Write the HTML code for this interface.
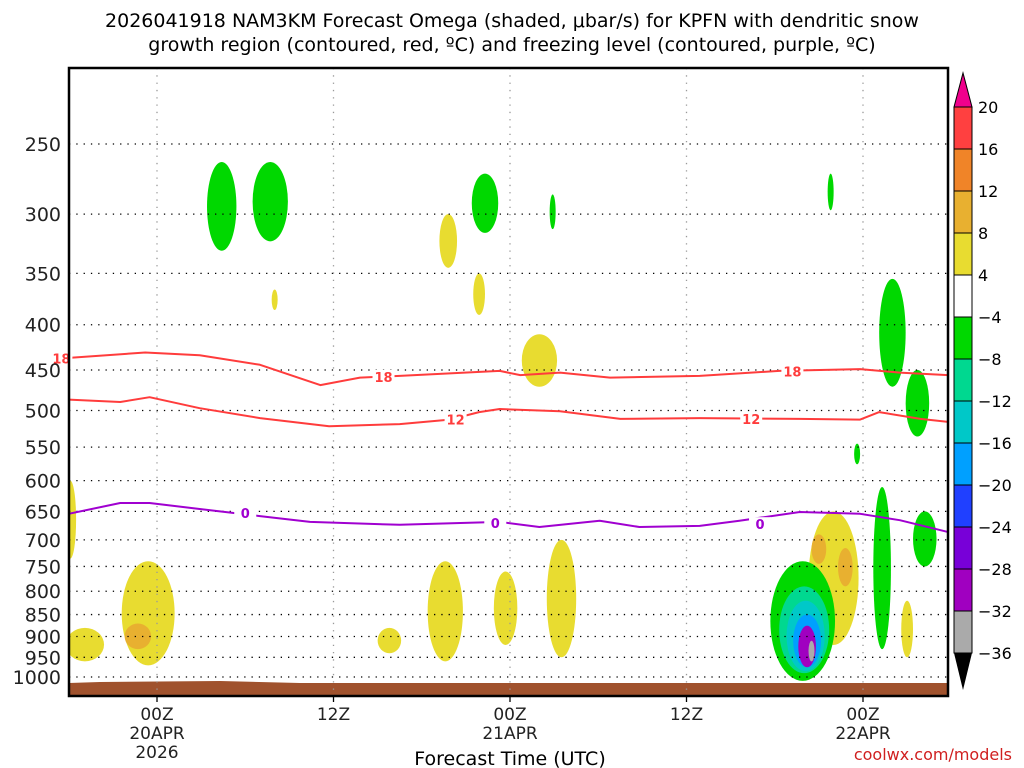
<!DOCTYPE html>
<html><head><meta charset="utf-8"><style>
html,body{margin:0;padding:0;background:#fff;}
svg{display:block;font-family:"DejaVu Sans","Liberation Sans",sans-serif;}
</style></head><body>
<svg id="chart" width="1024" height="768" viewBox="0 0 1024 768">
<text x="512" y="27" font-size="19" text-anchor="middle" fill="#000">2026041918 NAM3KM Forecast Omega (shaded, μbar/s) for KPFN with dendritic snow</text>
<text x="512" y="51" font-size="19" text-anchor="middle" fill="#000">growth region (contoured, red, ºC) and freezing level (contoured, purple, ºC)</text>
<g id="plot"></g>
<text x="510" y="765" font-size="19" text-anchor="middle">Forecast Time (UTC)</text>
<text x="1012" y="760" font-size="16" text-anchor="end" fill="#d02020">coolwx.com/models</text>
</svg>
<script>
// ---- data ----
const pTicks = [250,300,350,400,450,500,550,600,650,700,750,800,850,900,950,1000];
const xTicks = [0,12,24,36,48];
const xTickLabels = [["00Z","20APR","2026"],["12Z"],["00Z","21APR"],["12Z"],["00Z","22APR"]];
const levels = [-36,-32,-28,-24,-20,-16,-12,-8,-4,4,8,12,16,20];
const levelColors = ["#aaaaaa","#a000c0","#7800d8","#2040ff","#00a0ff","#00c8c8","#00d890","#00d800","#ffffff","#e8dc30","#e8b030","#f08428","#ff4040"];
const line18Hours = [-6,-0.8,2.9,7,11.1,13.8,16.5,23.3,24.7,27.4,30.8,36.9,42.3,47.8,50.5,53.8];
const line18Press = [436,430,433,444,468,459,457,451,456,453,459,457,451,449,453,456];
const line12Hours = [-6,-2.5,-0.5,2.9,7,11.7,16.5,19.9,21.9,23.3,27.4,31.5,36.9,43.7,47.8,49.1,51.9,53.8];
const line12Press = [486,489,483,497,510,521,518,512,502,498,501,511,510,511,512,502,511,515];
const line0Hours = [-6,-2.5,-0.5,2.9,7,10.4,16.5,23.3,26,30.1,32.8,36.9,39.6,43.7,47.8,50.5,53.8];
const line0Press = [654,636,636,646,658,668,673,668,677,666,677,675,666,651,654,665,686];
// omega blobs: hour, top pressure, bottom pressure, half-width (hours), value
const blobHour = [4.4,7.7,22.3,26.9,45.8,19.8,21.9,8,26,50.0,51.7,47.6,-5.9,-0.6,-1.3,-4.9,19.6,23.7,27.5,15.8,46.0,45,46.8,49.3,52.2,51,43.9,44.0,44.1,44.2,44.2,44.5];
const blobTop =  [262,262,270,285,270,300,350,365,410,355,450,545,600,740,870,880,740,760,700,880,650,690,715,610,650,820,740,790,820,850,875,910];
const blobBot =  [330,322,315,312,297,345,390,385,470,470,535,575,735,970,930,960,960,920,950,940,920,745,790,930,750,950,1010,990,985,975,975,960];
const blobW =    [1,1.2,0.9,0.2,0.2,0.6,0.4,0.2,1.2,0.9,0.8,0.2,0.4,1.8,0.9,1.3,1.2,0.8,1.0,0.8,1.7,0.5,0.5,0.6,0.8,0.4,2.2,1.7,1.3,0.95,0.6,0.2];
const blobVal =  [-6,-6,-6,-6,-6,6,6,6,6,-6,-6,-6,6,6,10,6,6,6,6,6,6,10,10,-6,-6,6,-6,-10,-14,-18,-30,-34];
const label18 = [[-6.5,437],[15.4,458],[43.2,452]];
const label12 = [[20.3,512],[40.4,511]];
const label0 = [[6,653],[23,670],[41,672]];

// ---- axes ----
const X0=69,X1=948,Y0=68,Y1=696;
const xs = h => 157 + h*176.5/12;
const ys = p => 144 + Math.log(p/250)*384.5;
const NS="http://www.w3.org/2000/svg";
const plot=document.getElementById('plot');
function mk(tag,attrs,parent){const e=document.createElementNS(NS,tag);for(const k in attrs)e.setAttribute(k,attrs[k]);(parent||plot).appendChild(e);return e;}
function colorFor(v){for(let i=0;i<levels.length-1;i++){if(v>=levels[i]&&v<levels[i+1])return levelColors[i];}return v>=20?"#f0008c":"#000";}

const defs=mk('defs',{});
const cp=mk('clipPath',{id:'clip'},defs);
mk('rect',{x:X0,y:Y0,width:X1-X0,height:Y1-Y0},cp);
const inner=mk('g',{'clip-path':'url(#clip)'});



for(let i=0;i<blobHour.length;i++){
  const cx=xs(blobHour[i]),y1=ys(blobTop[i]),y2=ys(blobBot[i]);
  const e=mk('ellipse',{cx:cx,cy:(y1+y2)/2,rx:Math.max(3,blobW[i]*14.7),ry:(y2-y1)/2,fill:colorFor(blobVal[i])},inner);
  
  
}
const ground=mk('path',{d:`M${X0} ${Y1} L${X0} 683 L100 682 L220 681 L300 683 L${X1} 683 L${X1} ${Y1} Z`,fill:'#a0522d'},inner);



pTicks.forEach(p=>{
  const l=mk('line',{x1:X0,x2:X1,y1:ys(p),y2:ys(p),stroke:'#000','stroke-width':1.3,'stroke-dasharray':'1.3 6'},inner);
  
  
});
xTicks.forEach(h=>{
  const l=mk('line',{x1:xs(h),x2:xs(h),y1:Y0,y2:Y1,stroke:'#999','stroke-width':1.3,'stroke-dasharray':'1.3 6'},inner);
  
  
});
function contour(hs,ps,col,name){
  const d=hs.map((h,i)=>(i?'L':'M')+xs(h).toFixed(1)+' '+ys(ps[i]).toFixed(1)).join(' ');
  const l=mk('path',{d:d,fill:'none',stroke:col,'stroke-width':2,'stroke-linejoin':'round'},inner);
  
  
}
contour(line18Hours,line18Press,'#ff3c3c','contour-minus18');
contour(line12Hours,line12Press,'#ff3c3c','contour-minus12');
contour(line0Hours,line0Press,'#a000d0','freezing-level-contour');
function clabel(arr,txt,col){arr.forEach(a=>{
  const x=xs(a[0]),y=ys(a[1]);
  const r=mk('rect',{x:x-11,y:y-7,width:22,height:14,fill:'#fff'},plot);
  
  
  const t=mk('text',{x:x,y:y+5,'font-size':13,'font-weight':'bold','text-anchor':'middle',fill:col},plot);
  
  
  t.textContent=txt;});}
clabel(label18,'18','#ff3c3c');
clabel(label12,'12','#ff3c3c');
clabel(label0,'0','#a000d0');

const fr=mk('rect',{x:X0,y:Y0,width:X1-X0,height:Y1-Y0,fill:'none',stroke:'#000','stroke-width':2.5});


pTicks.forEach(p=>{
  const y=ys(p);
  const t=mk('text',{x:61,y:y+7,'font-size':19,'text-anchor':'end',fill:'#222'});
  
  
  t.textContent=p;
});
xTicks.forEach((h,i)=>{
  const x=xs(h);
  const tk=mk('line',{x1:x,x2:x,y1:Y1,y2:Y1+6,stroke:'#000','stroke-width':1.3});
  
  
  xTickLabels[i].forEach((s,j)=>{
    const t=mk('text',{x:x,y:720+j*19,'font-size':17,'text-anchor':'middle',fill:'#222'});
    
    
    t.textContent=s;
  });
});
const CBX=954,CBW=18,CBT=107,CBB=653;
const bh=(CBB-CBT)/levelColors.length;
const cbTopArrow=mk('polygon',{points:`${CBX},${CBT} ${CBX+CBW},${CBT} ${CBX+CBW/2},73`,fill:'#f0008c',stroke:'#000','stroke-width':1});


const cbBotArrow=mk('polygon',{points:`${CBX},${CBB} ${CBX+CBW},${CBB} ${CBX+CBW/2},690`,fill:'#000'});


for(let i=0;i<levelColors.length;i++){
  const idx=levelColors.length-1-i;
  const r=mk('rect',{x:CBX,y:CBT+i*bh,width:CBW,height:bh,fill:levelColors[idx],stroke:'#000','stroke-width':1});
  
  
}
for(let i=0;i<levels.length;i++){
  const y=CBB-i*bh;
  const v=levels[i];
  const t=mk('text',{x:978,y:y+6,'font-size':16,fill:'#000'});
  
  
  t.textContent=v<0?'\u2212'+(-v):String(v);
}
</script>
</body></html>
